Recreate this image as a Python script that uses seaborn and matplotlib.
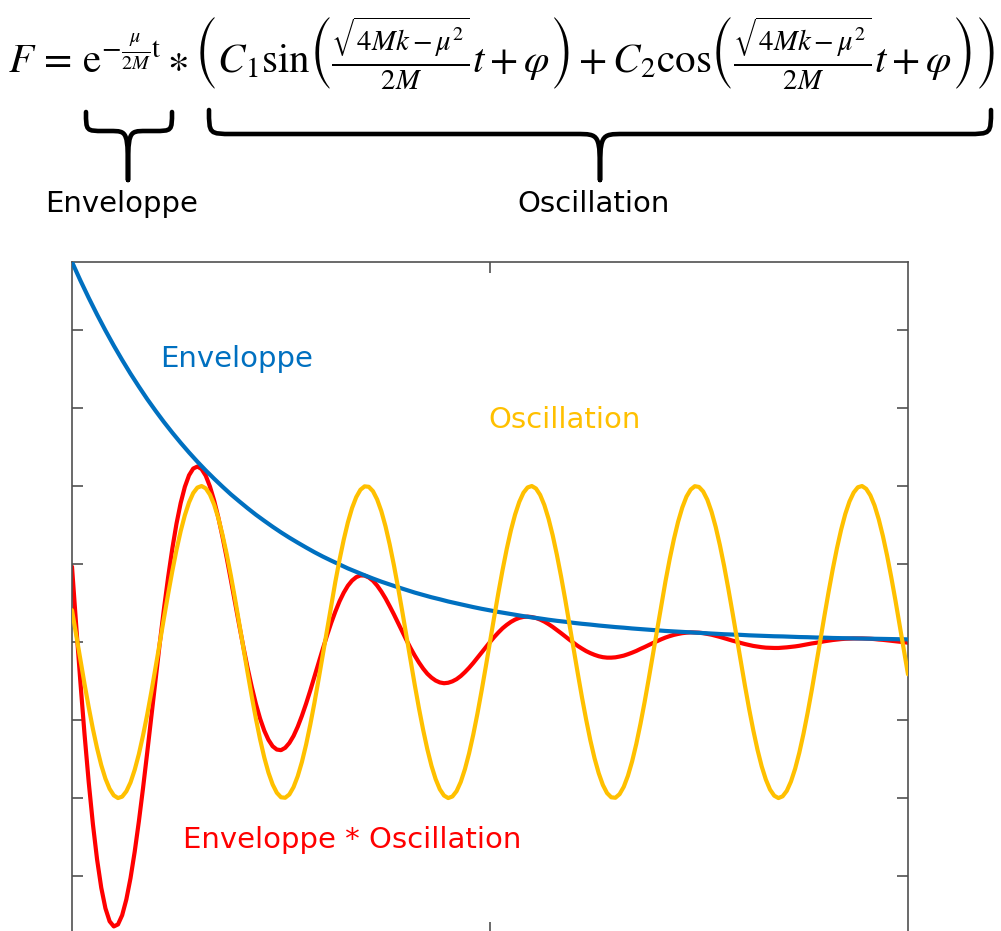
import numpy as np
import pandas as pd
import matplotlib
matplotlib.use("Agg")
import matplotlib.pyplot as plt
from matplotlib.path import Path
from matplotlib.patches import PathPatch
import seaborn as sns

# ---------------- data ----------------
t_values = [round(i * 0.1, 1) for i in range(101)]
t_mid = [round(0.05 + i * 0.1, 2) for i in range(100)]

oscillation = [
    0.204, -0.113, -0.418, -0.681, -0.876, -0.983, -0.991, -0.900, -0.718, -0.464,
    -0.163, 0.154, 0.455, 0.711, 0.895, 0.990, 0.985, 0.881, 0.688, 0.427,
    0.122, -0.195, -0.492, -0.740, -0.913, -0.995, -0.977, -0.860, -0.658, -0.389,
    -0.081, 0.235, 0.527, 0.767, 0.929, 0.998, 0.967, 0.839, 0.626, 0.350,
    0.040, -0.275, -0.562, -0.793, -0.944, -1.000, -0.956, -0.815, -0.593, -0.311,
    0.002, 0.315, 0.596, 0.817, 0.957, 1.000, 0.943, 0.791, 0.559, 0.272,
    -0.043, -0.354, -0.629, -0.840, -0.968, -0.998, -0.928, -0.765, -0.524, -0.232,
    0.084, 0.392, 0.660, 0.862, 0.977, 0.994, 0.912, 0.737, 0.489, 0.191,
    -0.126, -0.430, -0.691, -0.882, -0.985, -0.989, -0.894, -0.709, -0.452, -0.150,
    0.167, 0.467, 0.720, 0.901, 0.992, 0.982, 0.875, 0.679, 0.415, 0.109,
    -0.207,
]

oscillation_mid = [
    0.046, -0.269, -0.557, -0.789, -0.941, -1.000, -0.957, -0.819, -0.598, -0.317,
    -0.005, 0.308, 0.591, 0.813, 0.955, 1.000, 0.945, 0.795, 0.565, 0.278,
    -0.037, -0.348, -0.624, -0.837, -0.966, -0.998, -0.930, -0.769, -0.530, -0.238,
    0.078, 0.386, 0.655, 0.859, 0.976, 0.995, 0.914, 0.742, 0.494, 0.198,
    -0.119, -0.424, -0.686, -0.879, -0.984, -0.990, -0.897, -0.713, -0.458, -0.157,
    0.160, 0.461, 0.716, 0.898, 0.991, 0.984, 0.878, 0.684, 0.421, 0.116,
    -0.201, -0.497, -0.744, -0.916, -0.995, -0.975, -0.857, -0.653, -0.383, -0.075,
    0.241, 0.533, 0.771, 0.932, 0.999, 0.965, 0.835, 0.621, 0.344, 0.033,
    -0.281, -0.567, -0.797, -0.946, -1.000, -0.954, -0.812, -0.588, -0.305, 0.008,
    0.321, 0.601, 0.821, 0.958, 1.000, 0.940, 0.787, 0.554, 0.266, -0.050,
]

envelope = [
    2.436, 2.318, 2.206, 2.099, 1.997, 1.900, 1.808, 1.720, 1.637, 1.557,
    1.482, 1.410, 1.342, 1.277, 1.215, 1.156, 1.100, 1.047, 0.996, 0.947,
    0.902, 0.858, 0.816, 0.777, 0.739, 0.703, 0.669, 0.637, 0.606, 0.576,
    0.548, 0.522, 0.497, 0.472, 0.450, 0.428, 0.407, 0.387, 0.369, 0.351,
    0.334, 0.317, 0.302, 0.287, 0.274, 0.260, 0.248, 0.236, 0.224, 0.213,
    0.203, 0.193, 0.184, 0.175, 0.166, 0.158, 0.151, 0.143, 0.136, 0.130,
    0.123, 0.117, 0.112, 0.106, 0.101, 0.096, 0.092, 0.087, 0.083, 0.079,
    0.075, 0.071, 0.068, 0.065, 0.062, 0.059, 0.056, 0.053, 0.050, 0.048,
    0.046, 0.043, 0.041, 0.039, 0.037, 0.036, 0.034, 0.032, 0.031, 0.029,
    0.028, 0.026, 0.025, 0.024, 0.023, 0.022, 0.021, 0.020, 0.019, 0.018,
    0.017,
]

product = [
    0.483, -0.254, -0.898, -1.394, -1.707, -1.823, -1.751, -1.513, -1.149, -0.707,
    -0.237, 0.213, 0.599, 0.891, 1.069, 1.125, 1.066, 0.907, 0.675, 0.399,
    0.109, -0.165, -0.397, -0.568, -0.668, -0.693, -0.647, -0.543, -0.395, -0.223,
    -0.044, 0.122, 0.261, 0.361, 0.416, 0.426, 0.393, 0.324, 0.230, 0.123,
    0.013, -0.087, -0.170, -0.228, -0.259, -0.261, -0.238, -0.193, -0.134, -0.067,
    0.000, 0.061, 0.110, 0.144, 0.161, 0.160, 0.144, 0.115, 0.077, 0.036,
    -0.005, -0.042, -0.071, -0.091, -0.100, -0.098, -0.087, -0.068, -0.044, -0.019,
    0.006, 0.029, 0.046, 0.057, 0.062, 0.060, 0.052, 0.040, 0.025, 0.009,
    -0.006, -0.019, -0.029, -0.036, -0.038, -0.036, -0.031, -0.024, -0.014, -0.005,
    0.005, 0.013, 0.019, 0.022, 0.023, 0.022, 0.019, 0.014, 0.008, 0.002,
    -0.004,
]

product_mid = [
    0.107, -0.592, -1.167, -1.575, -1.790, -1.810, -1.650, -1.344, -0.935, -0.472,
    -0.007, 0.416, 0.759, 0.995, 1.112, 1.109, 0.997, 0.799, 0.541, 0.253,
    -0.032, -0.287, -0.491, -0.627, -0.689, -0.678, -0.602, -0.473, -0.311, -0.133,
    0.041, 0.195, 0.316, 0.394, 0.427, 0.414, 0.362, 0.280, 0.178, 0.068,
    -0.039, -0.131, -0.203, -0.247, -0.264, -0.252, -0.218, -0.165, -0.101, -0.033,
    0.032, 0.088, 0.129, 0.155, 0.163, 0.154, 0.131, 0.097, 0.057, 0.015,
    -0.025, -0.058, -0.082, -0.097, -0.100, -0.093, -0.078, -0.057, -0.032, -0.006,
    0.018, 0.038, 0.052, 0.060, 0.061, 0.057, 0.047, 0.033, 0.017, 0.002,
    -0.013, -0.025, -0.033, -0.037, -0.038, -0.034, -0.028, -0.019, -0.009, 0.000,
    0.009, 0.016, 0.021, 0.023, 0.023, 0.021, 0.016, 0.011, 0.005, -0.001,
]

y_ticks = [-1.5, -1.0, -0.5, 0.0, 0.5, 1.0, 1.5, 2.0]
x_ticks = [5.0]

label_env = "Enveloppe"
label_osc = "Oscillation"
label_prod = "Enveloppe * Oscillation"

# ---------------- tables ----------------
df_env = pd.DataFrame({"t": t_values, "v": envelope})
df_wave = pd.concat([
    pd.DataFrame({"t": t_values, "osc": oscillation, "prod": product}),
    pd.DataFrame({"t": t_mid, "osc": oscillation_mid, "prod": product_mid}),
]).sort_values("t").reset_index(drop=True)

# ---------------- styling ----------------
BLUE = "#0070C0"
YELLOW = "#FFC000"
RED = "#FF0000"
SPINE = "#505050"

sns.set_style("white")
plt.rcParams["font.family"] = ["DejaVu Sans"]
plt.rcParams["mathtext.fontset"] = "stix"

W, H = 1001, 931
fig = plt.figure(figsize=(W / 100, H / 100), dpi=100)


def fx(px):
    return px / W


def fy(py):
    return 1 - py / H


ax = fig.add_axes([fx(72), fy(933), fx(908) - fx(72), fy(262) - fy(933)])

line_kw = dict(lw=3.0, solid_joinstyle="round", solid_capstyle="round",
               estimator=None, sort=False)
sns.lineplot(data=df_wave, x="t", y="prod", ax=ax, color=RED, zorder=2, **line_kw)
sns.lineplot(data=df_env, x="t", y="v", ax=ax, color=BLUE, zorder=3, **line_kw)
sns.lineplot(data=df_wave, x="t", y="osc", ax=ax, color=YELLOW, zorder=4, **line_kw)

ax.set_xlim(0, 10)
ax.set_ylim(-1.865, 2.436)
ax.set_xticks(x_ticks)
ax.set_yticks(y_ticks)
ax.set_xlabel("")
ax.set_ylabel("")
ax.tick_params(direction="in", length=8, width=1.2, colors=SPINE,
               left=True, right=True, top=True, bottom=True,
               labelleft=False, labelbottom=False)
for s in ax.spines.values():
    s.set_visible(True)
    s.set_color(SPINE)
    s.set_linewidth(1.2)

# in-plot labels
fig.text(fx(160), fy(367), label_env, color=BLUE, fontsize=21, ha="left", va="baseline")
fig.text(fx(488), fy(428), label_osc, color=YELLOW, fontsize=21, ha="left", va="baseline")
fig.text(fx(183), fy(848), label_prod, color=RED, fontsize=21, ha="left", va="baseline")

# formula
formula = (r"$F\,=\,\mathrm{e}^{-\frac{\mu}{2M}\mathrm{t}}\ast\left(C_1\mathrm{sin}"
           r"\left(\frac{\sqrt{4Mk-\mu^2}}{2M}t+\varphi\right)+C_2\mathrm{cos}"
           r"\left(\frac{\sqrt{4Mk-\mu^2}}{2M}t+\varphi\right)\right)$")
fig.text(fx(502), fy(52), formula, fontsize=29.5, ha="center", va="center", color="black")


# braces
def brace(x0, x1, xt, y_top, y_mid, y_tip, r):
    pts = [
        (x0, y_top), (x0, y_mid), (x0, y_mid), (x0 + r, y_mid),
        (xt - r, y_mid),
        (xt, y_mid), (xt, y_mid), (xt, y_tip),
        (xt, y_mid), (xt, y_mid), (xt + r, y_mid),
        (x1 - r, y_mid),
        (x1, y_mid), (x1, y_mid), (x1, y_top),
    ]
    codes = [Path.MOVETO, Path.CURVE4, Path.CURVE4, Path.CURVE4,
             Path.LINETO,
             Path.CURVE4, Path.CURVE4, Path.CURVE4,
             Path.CURVE4, Path.CURVE4, Path.CURVE4,
             Path.LINETO,
             Path.CURVE4, Path.CURVE4, Path.CURVE4]
    verts = [(fx(a), fy(b)) for a, b in pts]
    patch = PathPatch(Path(verts, codes), transform=fig.transFigure,
                      facecolor="none", edgecolor="black", lw=3.3,
                      capstyle="round", joinstyle="round")
    fig.add_artist(patch)


brace(86, 172, 128, 112, 131, 180, 18)
brace(209, 991, 600, 110, 134, 180, 24)

fig.text(fx(122), fy(212), label_env, fontsize=21, ha="center", va="baseline", color="black")
fig.text(fx(594), fy(212), label_osc, fontsize=21, ha="center", va="baseline", color="black")

fig.savefig("out.png", dpi=100)
